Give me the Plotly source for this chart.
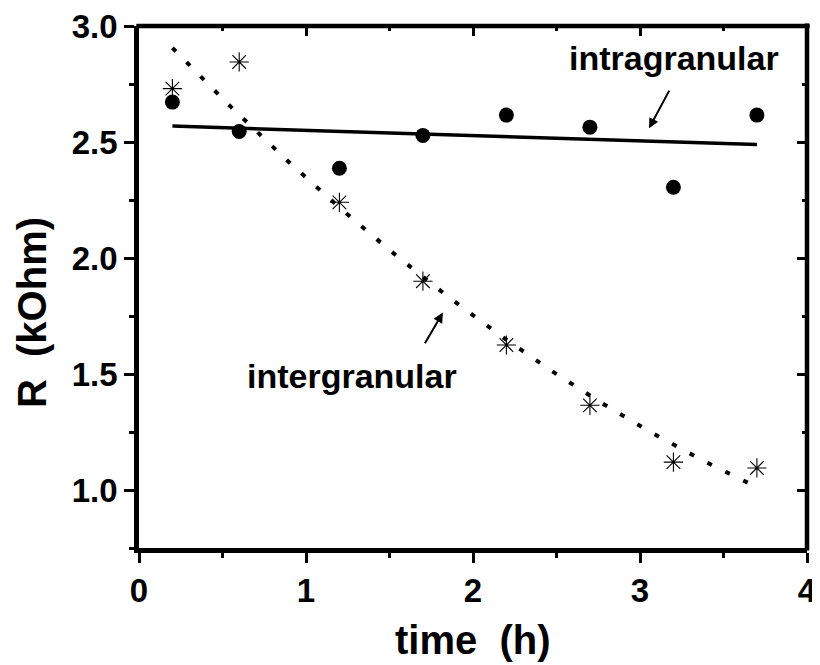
import numpy as np
import plotly.graph_objects as go

# Data
time_h = [0.2, 0.6, 1.2, 1.7, 2.2, 2.7, 3.2, 3.7]
r_intra = [2.672, 2.545, 2.387, 2.528, 2.616, 2.564, 2.305, 2.616]
r_inter = [2.73, 2.845, 2.24, 1.90, 1.625, 1.365, 1.12, 1.095]

x_ticks = [0, 1, 2, 3, 4]
y_ticks = [1.0, 1.5, 2.0, 2.5, 3.0]

# Fits (linear for intragranular, quadratic for intergranular)
xf = np.linspace(min(time_h), max(time_h), 200)
lin = np.polyfit(time_h, r_intra, 1)
quad = np.polyfit(time_h, r_inter, 2)

FONT = "Liberation Sans, Arial, sans-serif"

fig = go.Figure()
fig.add_trace(go.Scatter(x=xf, y=np.polyval(lin, xf), mode="lines",
                         line=dict(color="black", width=3.5), hoverinfo="skip"))
fig.add_trace(go.Scatter(x=xf, y=np.polyval(quad, xf), mode="lines",
                         line=dict(color="black", width=4, dash="5px,15px"), hoverinfo="skip"))
fig.add_trace(go.Scatter(x=time_h, y=r_intra, mode="markers",
                         marker=dict(symbol="circle", size=15, color="black")))
fig.add_trace(go.Scatter(x=time_h, y=r_inter, mode="markers",
                         marker=dict(symbol="asterisk-open", size=16, color="black",
                                     line=dict(color="black", width=1.1))))
# invisible trace for mirror axes
fig.add_trace(go.Scatter(x=[0], y=[1], xaxis="x2", yaxis="y2", mode="markers",
                         marker=dict(opacity=0), hoverinfo="skip"))

main_common = dict(showgrid=False, zeroline=False, showline=True,
                   linecolor="black", linewidth=4.5, tickcolor="black", tickwidth=3,
                   automargin=False, ticklabeloverflow="allow")
mirror_common = dict(showgrid=False, zeroline=False, showline=False,
                     tickcolor="black", tickwidth=3, automargin=False,
                     showticklabels=False)

# The page body adds an 8px margin, so the figure is 8px smaller than the window.
fig.update_layout(
    width=812, height=657,
    margin=dict(l=131, r=13, t=18, b=117),
    paper_bgcolor="white", plot_bgcolor="white",
    showlegend=False,
    xaxis=dict(range=[0, 4], tickvals=x_ticks, ticktext=[str(v) for v in x_ticks],
               ticks="outside", ticklen=10,
               tickfont=dict(family=FONT, size=33, color="black", weight="bold"),
               minor=dict(dtick=0.5, ticks="outside", ticklen=5, tickwidth=3, tickcolor="black"),
               **main_common),
    yaxis=dict(range=[0.75, 3.0], tickvals=y_ticks, ticktext=[f"{v:.1f}" for v in y_ticks],
               ticks="outside", ticklen=10,
               tickfont=dict(family=FONT, size=33, color="black", weight="bold"),
               minor=dict(dtick=0.25, ticks="outside", ticklen=5, tickwidth=3, tickcolor="black"),
               **main_common),
    xaxis2=dict(range=[0, 4], overlaying="x", side="top", tickvals=x_ticks,
                ticks="inside", ticklen=10,
                minor=dict(dtick=0.5, ticks="inside", ticklen=5, tickwidth=3, tickcolor="black"),
                **mirror_common),
    yaxis2=dict(range=[0.75, 3.0], overlaying="y", side="right", tickvals=y_ticks,
                ticks="inside", ticklen=10,
                minor=dict(dtick=0.25, ticks="inside", ticklen=5, tickwidth=3, tickcolor="black"),
                **mirror_common),
)

# top and right frame lines
fig.add_shape(type="line", xref="paper", yref="paper", x0=-0.004, x1=1.004, y0=1, y1=1,
              line=dict(color="black", width=4.5), layer="above")
fig.add_shape(type="line", xref="paper", yref="paper", x0=1, x1=1, y0=-0.005, y1=1.005,
              line=dict(color="black", width=4.5), layer="above")

ann_font = dict(family=FONT, size=34, color="black", weight="bold")
fig.add_annotation(x=3.204, y=2.86, xref="x", yref="y", text="intragranular",
                   showarrow=False, font=ann_font)
fig.add_annotation(x=1.275, y=1.49, xref="x", yref="y", text="intergranular",
                   showarrow=False, font=ann_font)
# arrows
fig.add_annotation(x=3.054, y=2.559, ax=3.18, ay=2.728, xref="x", yref="y",
                   axref="x", ayref="y", text="", showarrow=True,
                   arrowhead=2, arrowsize=1, arrowwidth=2, arrowcolor="black")
fig.add_annotation(x=1.820, y=1.765, ax=1.707, ay=1.626, xref="x", yref="y",
                   axref="x", ayref="y", text="", showarrow=True,
                   arrowhead=2, arrowsize=1, arrowwidth=2, arrowcolor="black")

title_font = dict(family=FONT, size=40, color="black", weight="bold")
fig.add_annotation(x=0.5, y=0, xref="paper", yref="paper", yanchor="top", yshift=-68,
                   text="time\u00a0 (h)", showarrow=False, font=title_font)
fig.add_annotation(x=0, y=0.45, xref="paper", yref="paper", xanchor="right", xshift=-83,
                   text="R\u00a0 (kOhm)", textangle=-90, showarrow=False, font=title_font)

fig.write_html("out.html")
